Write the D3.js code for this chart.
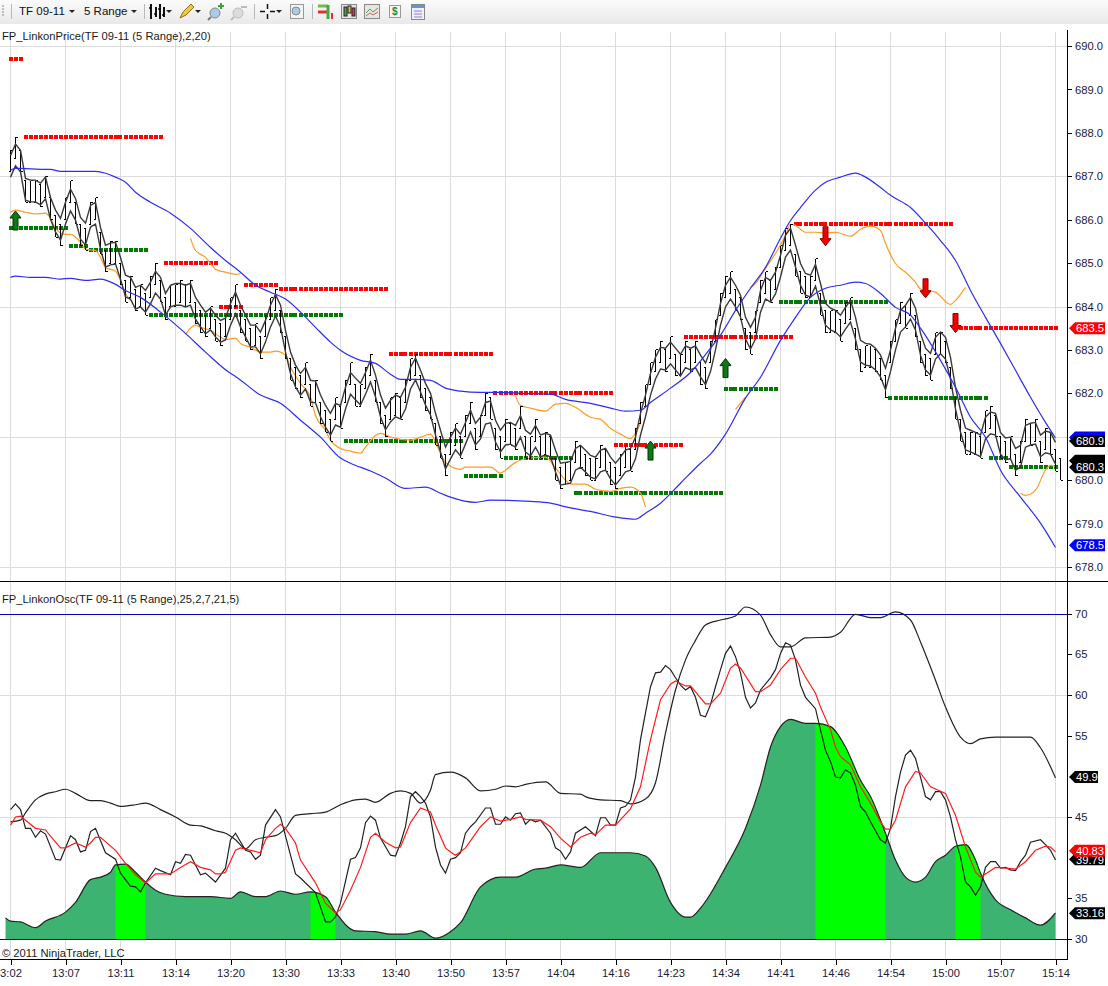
<!DOCTYPE html>
<html>
<head>
<meta charset="utf-8">
<title>FP_Linkon TF 09-11</title>
<script src="https://cdn.jsdelivr.net/npm/d3@7"></script>
<style>
  html, body { margin: 0; padding: 0; background: #fff; overflow: hidden; }
  svg { display: block; }
  text { font-family: "Liberation Sans", Arial, sans-serif; }
</style>
</head>
<body>
<div id="chart"></div>
<script>
// time axis, one label every 11 range bars (the first one is cut in the platform's own picture)
const timeLabels = ["3:02","13:07","13:11","13:14","13:20","13:30","13:33","13:40","13:50","13:57","14:04","14:16","14:23","14:34","14:41","14:46","14:54","15:00","15:07","15:14"];
const timeTickBars = timeLabels.map((d, i) => i * 11);
const priceTicks = [678,679,680,682,683,684,685,686,687,688,689,690];
const priceGrid = [678,681,684,687,690];
const oscTicks = [30,35,45,55,60,65,70];
const oscGrid = [45,60];
const oscLimits = [30,70];

// high of every range bar (a bar spans 0.5 points)
const barHigh = [687.6,687.9,687.6,686.9,686.9,686.9,686.8,687.0,686.5,686.1,685.9,686.5,686.9,686.4,685.9,685.8,686.4,686.5,685.7,685.3,685.5,685.5,685.0,684.6,684.7,684.4,684.5,684.3,684.7,685.0,684.6,684.2,684.5,684.5,684.6,684.5,684.6,684.1,683.9,683.8,684.0,683.7,683.6,683.8,684.2,684.5,683.9,683.7,683.5,683.6,683.3,683.8,684.2,684.4,683.9,683.3,682.8,682.6,682.4,682.7,682.2,682.3,681.8,681.6,681.4,681.9,681.7,682.3,682.7,682.2,682.2,682.6,682.9,682.3,681.8,681.5,681.9,682.0,681.9,682.3,682.8,682.9,682.4,682.1,681.9,681.3,681.0,680.6,681.1,681.3,681.0,681.5,681.8,681.2,681.5,682.0,681.9,681.2,681.0,681.4,681.3,681.2,681.7,681.0,681.0,681.4,681.0,681.1,681.0,680.5,680.3,680.4,680.5,680.9,680.8,680.6,680.5,680.5,680.8,680.7,680.4,680.3,680.6,680.8,680.7,681.2,681.8,682.2,682.7,683.0,683.2,683.0,683.3,682.9,682.9,683.2,683.0,683.2,682.7,682.6,683.2,683.7,684.3,684.7,684.8,684.4,684.2,683.5,683.4,683.9,684.6,684.8,684.6,684.9,685.4,685.8,685.9,685.2,684.8,684.7,684.7,685.1,684.3,683.9,683.9,683.9,683.7,684.1,684.2,683.5,683.0,683.1,683.1,683.0,682.8,682.4,683.2,683.7,684.1,684.0,684.3,683.8,683.2,682.9,682.8,683.4,683.4,683.2,682.6,681.9,681.4,681.1,681.1,681.1,681.0,681.6,681.7,681.5,681.0,680.9,681.0,680.6,680.9,681.4,681.3,681.4,680.9,681.2,681.1,680.7,680.5];

// the two grey lines that follow the bars, one value per bar
const upperLine = [687.48,687.74,687.60,686.95,686.91,686.91,686.84,686.98,686.51,686.22,686.03,686.40,686.70,686.49,686.05,685.92,686.33,686.40,685.82,685.41,685.46,685.48,685.13,684.72,684.67,684.44,684.49,684.37,684.56,684.81,684.67,684.30,684.49,684.53,684.53,684.49,684.53,684.21,684.03,683.87,683.96,683.80,683.68,683.73,684.07,684.33,684.03,683.80,683.57,683.57,683.41,683.68,684.03,684.28,684.03,683.45,682.95,682.65,682.46,682.60,682.30,682.28,681.96,681.72,681.54,681.77,681.72,682.14,682.48,682.35,682.23,682.48,682.76,682.42,681.96,681.66,681.84,681.96,681.91,682.14,682.60,682.81,682.53,682.23,682.00,681.54,681.15,680.76,680.99,681.20,681.06,681.33,681.61,681.31,681.45,681.79,681.82,681.38,681.15,681.31,681.33,681.26,681.49,681.15,681.06,681.26,681.04,681.08,681.04,680.69,680.39,680.41,680.43,680.73,680.80,680.69,680.57,680.53,680.69,680.73,680.53,680.39,680.53,680.69,680.73,680.99,681.54,681.96,682.46,682.83,683.06,683.04,683.18,683.04,682.90,683.09,683.04,683.09,682.88,682.70,683.00,683.50,684.07,684.49,684.67,684.49,684.26,683.75,683.52,683.75,684.37,684.67,684.60,684.79,685.18,685.64,685.80,685.41,684.99,684.76,684.72,684.97,684.53,684.07,683.96,683.91,683.80,683.98,684.14,683.75,683.22,683.15,683.13,683.04,682.88,682.58,683.00,683.50,683.91,684.03,684.21,683.96,683.38,683.04,682.92,683.29,683.41,683.29,682.83,682.14,681.61,681.20,681.15,681.10,681.04,681.45,681.57,681.54,681.10,680.97,680.99,680.73,680.80,681.26,681.31,681.33,681.04,681.13,681.10,680.87];
const lowerLine = [686.98,687.24,687.10,686.45,686.41,686.41,686.34,686.48,686.01,685.72,685.53,685.90,686.20,685.99,685.55,685.42,685.83,685.90,685.32,684.91,684.96,684.98,684.63,684.22,684.17,683.94,683.99,683.87,684.06,684.31,684.17,683.80,683.99,684.03,684.03,683.99,684.03,683.71,683.53,683.37,683.46,683.30,683.18,683.23,683.57,683.83,683.53,683.30,683.07,683.07,682.91,683.18,683.53,683.78,683.53,682.95,682.45,682.15,681.96,682.10,681.80,681.78,681.46,681.22,681.04,681.27,681.22,681.64,681.98,681.85,681.73,681.98,682.26,681.92,681.46,681.16,681.34,681.46,681.41,681.64,682.10,682.31,682.03,681.73,681.50,681.04,680.65,680.26,680.49,680.70,680.56,680.83,681.11,680.81,680.95,681.29,681.32,680.88,680.65,680.81,680.83,680.76,680.99,680.65,680.56,680.76,680.54,680.58,680.54,680.19,679.89,679.91,679.93,680.23,680.30,680.19,680.07,680.03,680.19,680.23,680.03,679.89,680.03,680.19,680.23,680.49,681.04,681.46,681.96,682.33,682.56,682.54,682.68,682.54,682.40,682.59,682.54,682.59,682.38,682.20,682.50,683.00,683.57,683.99,684.17,683.99,683.76,683.25,683.02,683.25,683.87,684.17,684.10,684.29,684.68,685.14,685.30,684.91,684.49,684.26,684.22,684.47,684.03,683.57,683.46,683.41,683.30,683.48,683.64,683.25,682.72,682.65,682.63,682.54,682.38,682.08,682.50,683.00,683.41,683.53,683.71,683.46,682.88,682.54,682.42,682.79,682.91,682.79,682.33,681.64,681.11,680.70,680.65,680.60,680.54,680.95,681.07,681.04,680.60,680.47,680.49,680.23,680.30,680.76,680.81,680.83,680.54,680.63,680.60,680.37];

// blue bands
const bandUpperBars = [0,1,2,6,8,10,14,17,19,21,23,25,28,32,36,40,43,46,49,52,55,58,61,64,66,70,73,76,78,81,84,87,90,94,98,102,108,111,116,120,123,126,128,132,136,140,142,145,148,151,154,156,158,161,163,166,169,171,174,176,180,183,186,189,192,195,198,201,204,207,209];
const bandUpperVals = [687.14,687.18,687.18,687.16,687.16,687.11,687.11,687.11,687.07,686.98,686.86,686.63,686.40,686.15,685.80,685.36,685.06,684.79,684.49,684.33,684.17,683.87,683.52,683.18,682.99,682.76,682.69,682.44,682.32,682.32,682.30,682.12,682.05,682.02,682.02,682.00,681.98,681.86,681.77,681.66,681.59,681.61,681.79,682.12,682.48,683.04,683.34,683.91,684.42,684.90,685.57,685.98,686.28,686.68,686.86,686.98,687.07,686.98,686.74,686.56,686.28,685.92,685.52,685.06,684.37,683.75,683.15,682.53,681.91,681.33,680.97];
const bandLowerBars = [0,1,4,7,10,12,15,18,21,23,26,30,35,39,44,45,50,54,58,62,66,68,72,75,79,83,86,88,93,96,104,108,112,116,121,125,127,130,134,138,140,143,147,150,154,157,160,163,166,169,171,174,177,180,182,186,189,192,195,198,202,206,209];
const bandLowerVals = [684.67,684.70,684.67,684.67,684.63,684.65,684.60,684.63,684.51,684.37,684.21,683.87,683.38,682.95,682.46,682.39,681.96,681.77,681.38,680.99,680.51,680.39,680.21,680.05,679.81,679.84,679.70,679.61,679.49,679.54,679.51,679.47,679.36,679.28,679.15,679.10,679.24,679.47,679.93,680.39,680.60,681.06,681.89,682.37,683.22,683.75,684.21,684.42,684.49,684.56,684.53,684.30,683.98,683.80,683.50,682.76,682.14,681.45,680.99,680.23,679.61,679.01,678.45];

// orange line, broken into pieces (null = gap)
const orangeBars = [0,1,3,5,7,8,9,11,12,14,15,17,18,19,21,22,23,24,null,36,37,39,40,41,43,45,46,null,35,37,38,40,42,43,45,46,48,50,52,53,55,56,58,60,61,63,64,66,68,70,71,73,74,76,80,82,84,85,86,87,90,91,96,98,99,101,104,107,109,111,112,115,117,120,122,124,126,127,null,101,102,104,107,109,111,113,116,118,120,122,124,125,126,null,145,147,null,148,149,151,153,155,156,157,159,161,163,165,168,170,172,174,175,177,179,181,182,185,188,189,191,null,202,203,205,207,208,209];
const orangeVals = [686.17,686.22,686.17,686.13,686.15,686.03,685.80,685.66,685.66,685.48,685.32,685.29,685.13,684.90,684.81,684.60,684.30,684.14,null,685.57,685.29,685.13,684.99,684.86,684.79,684.74,684.76,null,683.36,683.57,683.52,683.45,683.29,683.24,683.27,683.15,683.06,682.95,682.95,682.97,682.88,682.60,682.23,681.91,681.49,681.15,680.92,680.73,680.67,680.62,680.76,681.03,681.08,680.99,680.92,680.99,681.06,680.87,680.62,680.41,680.25,680.30,680.30,680.16,680.23,680.41,680.51,680.53,680.28,680.00,679.91,679.91,679.79,679.74,679.81,679.84,679.70,679.38,null,681.93,681.72,681.66,681.59,681.75,681.77,681.68,681.45,681.40,681.19,681.06,680.96,681.08,681.31,null,681.63,681.91,null,684.44,684.53,684.88,685.22,685.64,685.89,685.87,685.71,685.71,685.69,685.71,685.62,685.78,685.85,685.75,685.45,684.99,684.79,684.56,684.40,684.33,684.05,684.14,684.44,null,679.70,679.65,679.77,680.23,680.34,680.32];

// dotted support and resistance levels
const redStart = [0,3,31,47,54,42,76,97,121,135,157,190];
const redEnd = [2,30,41,53,75,46,96,120,134,156,188,209];
const redPrice = [689.7,687.9,685.0,684.5,684.4,684.0,682.9,682.0,680.8,683.3,685.9,683.5];
const greenStart = [0,12,16,28,67,91,99,113,143,154,176,196,200];
const greenEnd = [11,15,27,66,90,98,112,142,153,175,195,199,209];
const greenPrice = [685.8,685.4,685.3,683.8,680.9,680.1,680.5,679.7,682.1,684.1,681.9,680.5,680.3];

const upArrowBars = [1,128,143];
const upArrowPrices = [686.2,680.9,682.8];
const downArrowBars = [163,183,189];
const downArrowPrices = [685.4,684.2,683.4];

// oscillator: upper black curve
const oscBandBars = [0,2,3,5,7,9,11,13,16,18,20,22,25,27,30,33,36,38,41,43,45,47,49,51,53,55,57,60,63,66,69,71,73,76,78,80,82,84,85,88,91,94,97,99,101,103,107,110,114,115,118,122,124,127,129,131,133,135,137,139,142,145,147,150,152,154,156,159,164,166,169,172,174,177,180,182,185,187,190,192,194,197,204,206,209];
const oscBandVals = [44.4,44.6,45.5,47.1,47.8,48.1,48.4,47.9,47.0,47.0,46.7,46.3,46.5,46.7,45.9,45.0,44.0,43.9,43.3,43.0,42.2,41.1,42.2,42.5,42.7,43.6,45.2,45.4,45.6,46.5,47.1,47.2,46.8,47.9,48.2,47.9,46.7,48.3,50.2,50.5,49.8,48.2,48.4,48.8,48.7,49.0,49.3,47.9,47.8,47.5,47.1,47.0,46.6,47.2,49.2,55.3,60.6,64.3,66.7,68.6,69.2,69.7,70.8,69.8,67.4,65.9,65.9,67.0,67.1,67.7,69.9,69.5,69.5,70.2,69.2,66.5,61.8,58.5,54.8,54.0,54.6,54.8,54.8,53.5,49.8];

// oscillator: fast black line
const oscFastBars = [0,1,2,3,4,5,6,7,9,10,12,13,14,15,16,17,19,21,22,24,25,26,27,29,30,32,33,34,35,36,38,39,41,43,44,45,47,48,49,50,51,53,54,56,57,58,61,63,64,65,66,68,69,70,71,72,73,74,76,77,78,79,80,81,82,83,84,85,86,87,88,89,90,91,92,93,95,96,97,98,99,100,101,102,103,104,105,106,108,109,110,111,112,113,115,117,118,119,120,121,122,123,124,125,126,127,128,129,130,131,132,133,134,135,136,137,138,139,140,141,142,143,144,145,146,147,148,149,150,152,153,154,155,156,157,158,159,161,162,163,164,165,166,167,168,169,170,171,172,174,175,176,177,178,179,180,181,182,183,184,185,186,187,188,189,190,191,192,193,194,195,196,197,198,199,200,201,202,203,204,206,207,208,209];
const oscFastVals = [45.9,46.6,45.9,43.6,43.6,42.5,43.3,42.9,39.8,39.7,42.7,42.2,40.7,40.9,43.2,43.6,40.6,39.8,38.1,36.5,36.4,35.8,36.9,38.7,38.4,37.9,39.5,39.3,40.4,40.3,37.9,38.1,37.0,38.7,42.2,43.0,40.9,40.7,39.8,40.3,44.0,45.9,45.0,40.3,38.0,37.5,35.7,32.1,32.1,32.7,34.4,39.8,40.0,41.2,44.3,45.1,44.6,42.4,40.3,40.2,41.8,43.8,47.5,48.1,47.5,46.7,45.0,41.3,39.1,38.1,39.8,40.0,40.6,43.0,43.8,44.4,46.1,46.1,44.1,44.1,45.0,44.6,45.4,45.5,44.1,44.7,44.4,44.6,43.0,41.2,40.8,39.8,40.7,43.0,43.8,42.7,44.9,44.9,44.0,44.0,46.1,46.3,47.1,49.9,54.5,57.8,61.0,62.7,62.8,63.6,63.1,62.1,61.2,60.6,61.0,59.7,57.5,57.3,58.8,61.0,63.1,65.1,66.0,64.7,62.7,59.7,58.4,59.0,60.6,62.1,63.1,65.1,66.4,66.1,64.3,61.2,59.7,58.3,55.7,53.2,51.8,49.9,49.8,50.8,50.4,48.9,46.3,45.6,44.4,42.2,41.8,43.6,47.5,50.5,52.6,53.2,52.2,49.9,47.5,47.1,48.1,48.1,47.1,45.0,42.2,40.1,37.0,36.4,35.4,36.4,38.8,39.5,39.5,38.7,38.8,38.5,38.4,39.5,40.3,41.9,42.2,41.6,40.9,39.7];

// oscillator: red line
const oscRedBars = [0,1,2,3,5,7,9,10,11,13,15,16,17,18,21,23,25,27,29,32,34,36,38,40,41,42,43,45,46,48,50,51,53,54,55,57,58,61,63,65,66,68,70,72,73,75,77,78,80,82,84,85,87,88,89,91,94,96,98,100,102,103,106,108,110,112,114,116,117,119,121,124,126,128,130,132,133,135,136,139,140,142,144,145,146,149,150,152,154,156,157,159,161,162,164,165,166,168,170,172,174,175,176,177,179,181,182,184,187,189,191,193,194,196,197,199,201,203,205,207,208,209];
const oscRedVals = [44.0,45.0,45.1,44.6,43.6,43.4,41.9,41.2,41.2,41.8,41.3,41.8,42.5,42.5,40.9,39.3,37.9,36.9,38.0,38.0,38.8,39.5,38.8,38.5,38.0,38.0,38.2,40.9,41.2,40.9,40.6,42.2,43.6,44.1,43.6,41.8,39.7,36.9,34.4,33.2,33.6,36.0,38.8,42.5,43.0,41.9,41.2,41.3,44.3,46.1,45.6,44.0,41.2,40.7,40.3,41.2,43.8,45.0,44.5,44.7,45.0,44.7,44.6,43.8,42.4,41.3,42.5,43.0,42.8,44.0,44.0,46.0,48.7,54.5,59.4,61.3,61.7,61.1,61.1,58.9,58.9,60.2,63.3,63.8,63.3,60.4,60.4,61.2,63.1,64.5,64.5,62.2,60.2,58.5,55.7,53.6,52.4,51.4,48.7,46.7,44.4,43.5,43.5,44.6,48.7,50.6,50.4,48.7,47.9,45.2,41.3,38.2,37.6,38.4,38.8,38.7,38.6,39.5,40.9,41.4,41.3,40.7];

// oscillator: filled area and the spans where it turns bright
const oscAreaBars = [-1,0,2,5,7,11,13,16,18,20,21,23,25,27,29,31,35,40,44,46,49,51,54,57,60,63,65,69,73,76,79,82,85,88,90,94,98,101,105,107,110,114,118,124,127,129,132,135,136,138,143,147,150,152,154,156,159,161,164,167,170,172,175,177,179,181,183,185,187,189,191,193,194,197,200,203,206,209];
const oscAreaVals = [32.6,32.2,32.1,31.4,32.2,33.3,34.5,37.3,37.6,38.2,39.1,39.2,38.2,37.0,36.0,35.5,35.2,35.2,35.0,35.8,35.2,35.2,35.9,35.5,35.8,35.2,33.3,31.0,30.9,30.6,30.6,31.0,30.1,30.9,32.0,36.4,37.6,37.6,38.6,38.7,39.1,38.8,40.6,40.6,40.2,38.8,34.5,32.7,32.7,33.8,38.8,43.6,48.9,53.6,56.1,57.0,56.5,56.5,56.1,53.6,49.5,47.5,43.0,39.7,37.6,37.0,37.6,39.5,40.3,41.4,41.6,39.7,38.1,34.8,33.6,32.6,31.7,33.2];
const brightStart = [21,60,161,189];
const brightEnd = [27,65,175,194];

// last value tags on the right axes, back to front
const priceTagVals = [680.98,680.9,680.45,680.3,683.5,678.5];
const priceTagLabels = ["","680.9","","680.3","683.5","678.5"];
const priceTagFills = ["#0000ff","#000","#000","#000","#ff0000","#0000ff"];
const oscTagVals = [49.9,39.79,40.83,33.16];
const oscTagLabels = ["49.9","39.79","40.83","33.16"];
const oscTagFills = ["#000","#000","#ff0000","#000"];

const WIDTH = 1108;
const HEIGHT = 986;
const AXIS_X = 1067;
const BAR_RANGE = 0.5;
const FONT_SIZE = 11.2;

const svg = d3.select("#chart").append("svg")
  .attr("width", WIDTH)
  .attr("height", HEIGHT)
  .attr("viewBox", `0 0 ${WIDTH} ${HEIGHT}`);

const x = d3.scaleLinear().domain([0, 209]).range([10.5, 1055.5]);
const yPrice = d3.scaleLinear().domain([678, 690]).range([567, 46]);
const yOsc = d3.scaleLinear().domain([30, 70]).range([939, 613.5]);

svg.append("rect").attr("width", WIDTH).attr("height", HEIGHT).attr("fill", "#fff");

// grid
const grid = svg.append("g").attr("stroke", "#dcdcdc").attr("shape-rendering", "crispEdges");
[[32, 581], [581, 959]].forEach(([y0, y1]) => {
  grid.append("g").selectAll("line").data(timeTickBars).join("line")
    .attr("x1", d => x(d)).attr("x2", d => x(d)).attr("y1", y0).attr("y2", y1);
});
grid.append("g").selectAll("line").data(priceGrid).join("line")
  .attr("x1", 0).attr("x2", AXIS_X)
  .attr("y1", d => Math.round(yPrice(d)) + 0.5).attr("y2", d => Math.round(yPrice(d)) + 0.5);
grid.append("g").selectAll("line").data(oscGrid).join("line")
  .attr("x1", 0).attr("x2", AXIS_X)
  .attr("y1", d => Math.round(yOsc(d)) + 0.5).attr("y2", d => Math.round(yOsc(d)) + 0.5);

function pairs(bars, vals) {
  return bars.map((b, i) => ({ bar: b, val: vals[i] }));
}

function drawLine(data, yScale, color, curve, width) {
  const line = d3.line()
    .defined(d => d.bar !== null && d.val !== null)
    .x(d => x(d.bar))
    .y(d => yScale(d.val))
    .curve(curve || d3.curveLinear);
  svg.append("path").attr("d", line(data))
    .attr("fill", "none").attr("stroke", color).attr("stroke-width", width || 1.2);
}

// ----- price panel -----
const levels = svg.append("g").attr("shape-rendering", "crispEdges");

function drawLevels(starts, ends, prices, color) {
  starts.forEach((start, k) => {
    levels.append("g").selectAll("rect").data(d3.range(start, ends[k] + 1)).join("rect")
      .attr("x", d => Math.round(x(d)) - 2)
      .attr("y", Math.round(yPrice(prices[k])) - 2)
      .attr("width", 4).attr("height", 4)
      .attr("fill", color);
  });
}

drawLine(pairs(orangeBars, orangeVals), yPrice, "#ff9a24", d3.curveMonotoneX);
drawLevels(greenStart, greenEnd, greenPrice, "#007a00");

// range bars
const bars = svg.append("g").attr("stroke", "#000").attr("shape-rendering", "crispEdges");
barHigh.forEach((high, i) => {
  const up = i === 0 || high >= barHigh[i - 1];
  const low = high - BAR_RANGE;
  const open = up ? low : high;
  const close = up ? high : low;
  const bx = x(i);
  bars.append("line").attr("x1", bx).attr("x2", bx).attr("y1", yPrice(high)).attr("y2", yPrice(low));
  bars.append("line").attr("x1", bx - 2).attr("x2", bx).attr("y1", yPrice(open)).attr("y2", yPrice(open));
  bars.append("line").attr("x1", bx).attr("x2", bx + 2).attr("y1", yPrice(close)).attr("y2", yPrice(close));
});

drawLine(upperLine.map((v, i) => ({ bar: i, val: v })), yPrice, "#3a3a3a", null, 1.4);
drawLine(lowerLine.map((v, i) => ({ bar: i, val: v })), yPrice, "#3a3a3a", null, 1.4);
drawLine(pairs(bandUpperBars, bandUpperVals), yPrice, "#2d2df5", d3.curveMonotoneX);
drawLine(pairs(bandLowerBars, bandLowerVals), yPrice, "#2d2df5", d3.curveMonotoneX);
drawLevels(redStart, redEnd, redPrice, "#ff0000");

// signal arrows
function arrowPath(dir) {
  const p = d3.path();
  p.moveTo(0, 0);
  p.lineTo(5.5, 7 * dir);
  p.lineTo(2.5, 7 * dir);
  p.lineTo(2.5, 19 * dir);
  p.lineTo(-2.5, 19 * dir);
  p.lineTo(-2.5, 7 * dir);
  p.lineTo(-5.5, 7 * dir);
  p.closePath();
  return p.toString();
}

function drawArrows(barList, priceList, dir, fill, edge) {
  svg.append("g").selectAll("path").data(barList).join("path")
    .attr("d", arrowPath(dir))
    .attr("transform", (d, i) => `translate(${x(d)},${yPrice(priceList[i])})`)
    .attr("fill", fill).attr("stroke", edge).attr("stroke-width", 1);
}
drawArrows(upArrowBars, upArrowPrices, 1, "#0a7a14", "#06300a");
drawArrows(downArrowBars, downArrowPrices, -1, "#f00000", "#8a0000");

// ----- oscillator panel -----
const area = d3.area()
  .x(d => x(d.bar))
  .y0(yOsc(30))
  .y1(d => yOsc(d.val))
  .curve(d3.curveMonotoneX);
const oscArea = pairs(oscAreaBars, oscAreaVals);

svg.append("path").attr("d", area(oscArea)).attr("fill", "#3cb371");

const defs = svg.append("defs");
brightStart.forEach((start, k) => {
  const id = `bright-${k}`;
  defs.append("clipPath").attr("id", id).append("rect")
    .attr("x", x(start)).attr("y", 600)
    .attr("width", x(brightEnd[k]) - x(start)).attr("height", 340);
  svg.append("path").attr("d", area(oscArea)).attr("fill", "#00ff00").attr("clip-path", `url(#${id})`);
});

drawLine(oscArea, yOsc, "#222", d3.curveMonotoneX);

svg.append("g").attr("stroke", "#0000b4").attr("shape-rendering", "crispEdges")
  .selectAll("line").data(oscLimits).join("line")
  .attr("x1", 0).attr("x2", AXIS_X)
  .attr("y1", d => Math.round(yOsc(d)) + 0.5).attr("y2", d => Math.round(yOsc(d)) + 0.5);

drawLine(pairs(oscBandBars, oscBandVals), yOsc, "#222", d3.curveMonotoneX);
drawLine(pairs(oscFastBars, oscFastVals), yOsc, "#222");
drawLine(pairs(oscRedBars, oscRedVals), yOsc, "#ff1c1c");

// ----- frame and axes -----
svg.append("g").attr("stroke", "#000").attr("shape-rendering", "crispEdges").call(g => {
  g.append("line").attr("x1", 0).attr("x2", WIDTH).attr("y1", 581.5).attr("y2", 581.5);
  g.append("line").attr("x1", 0).attr("x2", AXIS_X).attr("y1", 959.5).attr("y2", 959.5);
  g.append("line").attr("x1", AXIS_X + 0.5).attr("x2", AXIS_X + 0.5).attr("y1", 30).attr("y2", 960);
});

function styleAxis(g) {
  g.select(".domain").remove();
  g.selectAll("line").attr("stroke", "#000").attr("shape-rendering", "crispEdges");
  g.selectAll("text").attr("font-size", FONT_SIZE).attr("fill", "#1a1a3a")
    .attr("font-family", '"Liberation Sans", Arial, sans-serif');
}

svg.append("g")
  .attr("transform", `translate(${AXIS_X},0)`)
  .call(d3.axisRight(yPrice).tickValues(priceTicks).tickSize(5).tickPadding(3).tickFormat(d3.format(".1f")))
  .call(styleAxis);
svg.append("g")
  .attr("transform", `translate(${AXIS_X},0)`)
  .call(d3.axisRight(yOsc).tickValues(oscTicks).tickSize(5).tickPadding(3).tickFormat(d3.format("d")))
  .call(styleAxis);
svg.append("g")
  .attr("transform", "translate(0,960)")
  .call(d3.axisBottom(x).tickValues(timeTickBars).tickSize(5).tickPadding(4)
    .tickFormat((d, i) => timeLabels[i]))
  .call(styleAxis);

// value tags
function drawTag(cy, right, fill, text) {
  const h = 6;
  const left = AXIS_X + 2;
  const p = d3.path();
  p.moveTo(left, cy);
  p.lineTo(left + 6, cy - h);
  p.lineTo(right, cy - h);
  p.lineTo(right, cy + h);
  p.lineTo(left + 6, cy + h);
  p.closePath();
  svg.append("path").attr("d", p.toString()).attr("fill", fill);
  if (text) {
    svg.append("text").attr("x", left + 7).attr("y", cy + 4.2)
      .attr("font-size", FONT_SIZE).attr("fill", "#fff").text(text);
  }
}

priceTagVals.forEach((v, i) => drawTag(yPrice(v), 1105, priceTagFills[i], priceTagLabels[i]));
oscTagVals.forEach((v, i) => {
  drawTag(yOsc(v), oscTagLabels[i].length < 5 ? 1098 : 1105, oscTagFills[i], oscTagLabels[i]);
});

// panel titles
function label(tx, ty, str) {
  svg.append("text").attr("x", tx).attr("y", ty).attr("font-size", FONT_SIZE).attr("fill", "#1a1a1a").text(str);
}
label(2, 40, "FP_LinkonPrice(TF 09-11 (5 Range),2,20)");
label(2, 603, "FP_LinkonOsc(TF 09-11 (5 Range),25,2,7,21,5)");
label(2, 957, "© 2011 NinjaTrader, LLC");

// ----- toolbar -----
const toolGrad = defs.append("linearGradient").attr("id", "toolbar").attr("x1", 0).attr("x2", 0).attr("y1", 0).attr("y2", 1);
toolGrad.append("stop").attr("offset", 0).attr("stop-color", "#fbfbfb");
toolGrad.append("stop").attr("offset", 1).attr("stop-color", "#e9e9e9");
const tb = svg.append("g");
tb.append("rect").attr("width", WIDTH).attr("height", 24).attr("fill", "url(#toolbar)");

// grip dots
[5, 8, 11, 14].forEach(ty => {
  tb.append("rect").attr("x", 2).attr("y", ty).attr("width", 2).attr("height", 2).attr("fill", "#bdbdbd");
});
[11, 144, 254, 312].forEach(tx => {
  tb.append("line").attr("x1", tx + 0.5).attr("x2", tx + 0.5).attr("y1", 4).attr("y2", 19)
    .attr("stroke", "#b8b8b8").attr("shape-rendering", "crispEdges");
});
tb.append("text").attr("x", 19).attr("y", 15).attr("font-size", 11.5).attr("fill", "#111").text("TF 09-11");
tb.append("text").attr("x", 84).attr("y", 15).attr("font-size", 11.5).attr("fill", "#111").text("5 Range");

[[72, 12], [134, 12], [169, 12], [198, 12], [279, 12]].forEach(([tx, ty]) => {
  tb.append("path").attr("d", `M${tx - 3},${ty - 2}h6l-3,3z`).attr("fill", "#222");
});

// bar type icon
[[151, 4, 19], [156, 7, 17], [160, 4, 19], [164, 7, 17]].forEach(([tx, y0, y1]) => {
  tb.append("line").attr("x1", tx).attr("x2", tx).attr("y1", y0).attr("y2", y1)
    .attr("stroke", "#111").attr("stroke-width", 2);
});
tb.append("path").attr("d", "M149,8h3M154,14h3M158,9h3M162,15h3").attr("stroke", "#111").attr("stroke-width", 1.5);
// pencil
tb.append("path").attr("d", "M180,18l3,-6l8,-8l3,3l-8,8z").attr("fill", "#f2c83c").attr("stroke", "#8a7020");
// zoom in and out
tb.append("circle").attr("cx", 215).attr("cy", 13).attr("r", 5).attr("fill", "#a8cbe8").attr("stroke", "#888");
tb.append("path").attr("d", "M211,17l-3,3").attr("stroke", "#777").attr("stroke-width", 2);
tb.append("path").attr("d", "M221,3v6M218,6h6").attr("stroke", "#2fae2f").attr("stroke-width", 2);
tb.append("circle").attr("cx", 238).attr("cy", 13).attr("r", 5).attr("fill", "#dcdcdc").attr("stroke", "#bbb");
tb.append("path").attr("d", "M234,17l-3,3M241,7h6").attr("stroke", "#bbb").attr("stroke-width", 2);
// crosshair
tb.append("path").attr("d", "M260,11.5h5M270,11.5h5M267.5,4v5M267.5,14v5").attr("stroke", "#111").attr("stroke-width", 1.5);
// magnifier page
tb.append("rect").attr("x", 290.5).attr("y", 4.5).attr("width", 13).attr("height", 14).attr("fill", "#f4f4f4").attr("stroke", "#999");
tb.append("circle").attr("cx", 296).attr("cy", 11).attr("r", 4).attr("fill", "#a8cbe8").attr("stroke", "#888");
// chart style icons
tb.append("path").attr("d", "M318,6h10").attr("stroke", "#6fb84a").attr("stroke-width", 3);
tb.append("path").attr("d", "M318,12h9").attr("stroke", "#e23030").attr("stroke-width", 3);
tb.append("path").attr("d", "M328,5v14").attr("stroke", "#3fae3f").attr("stroke-width", 3);
tb.append("path").attr("d", "M332,13v6").attr("stroke", "#e23030").attr("stroke-width", 2);
tb.append("rect").attr("x", 341.5).attr("y", 4.5).attr("width", 15).attr("height", 14).attr("fill", "#e6e6e0").attr("stroke", "#888");
tb.append("rect").attr("x", 344).attr("y", 7).attr("width", 3).attr("height", 9).attr("fill", "#4fa04f").attr("stroke", "#223");
tb.append("rect").attr("x", 348).attr("y", 6).attr("width", 3).attr("height", 7).attr("fill", "#e2c040").attr("stroke", "#223");
tb.append("rect").attr("x", 352).attr("y", 8).attr("width", 3).attr("height", 8).attr("fill", "#d04040").attr("stroke", "#223");
tb.append("rect").attr("x", 364.5).attr("y", 4.5).attr("width", 15).attr("height", 14).attr("fill", "#e6e6e0").attr("stroke", "#888");
tb.append("path").attr("d", "M366,13l4,-4l3,3l5,-4").attr("fill", "none").attr("stroke", "#5a9a5a");
tb.append("path").attr("d", "M366,16l4,-3l3,2l5,-3").attr("fill", "none").attr("stroke", "#d06060");
tb.append("rect").attr("x", 389.5).attr("y", 5.5).attr("width", 11).attr("height", 12).attr("fill", "#f4f4f0").attr("stroke", "#999");
tb.append("text").attr("x", 392).attr("y", 15).attr("font-size", 10).attr("font-weight", "bold").attr("fill", "#1f8a3a").text("$");
tb.append("rect").attr("x", 411.5).attr("y", 4.5).attr("width", 13).attr("height", 15).attr("fill", "#eef2f8").attr("stroke", "#888");
tb.append("rect").attr("x", 412).attr("y", 5).attr("width", 12).attr("height", 3).attr("fill", "#5a9ad0");
tb.append("path").attr("d", "M414,11h8M414,14h8M414,17h8").attr("stroke", "#9a7ad0");
</script>
</body>
</html>
